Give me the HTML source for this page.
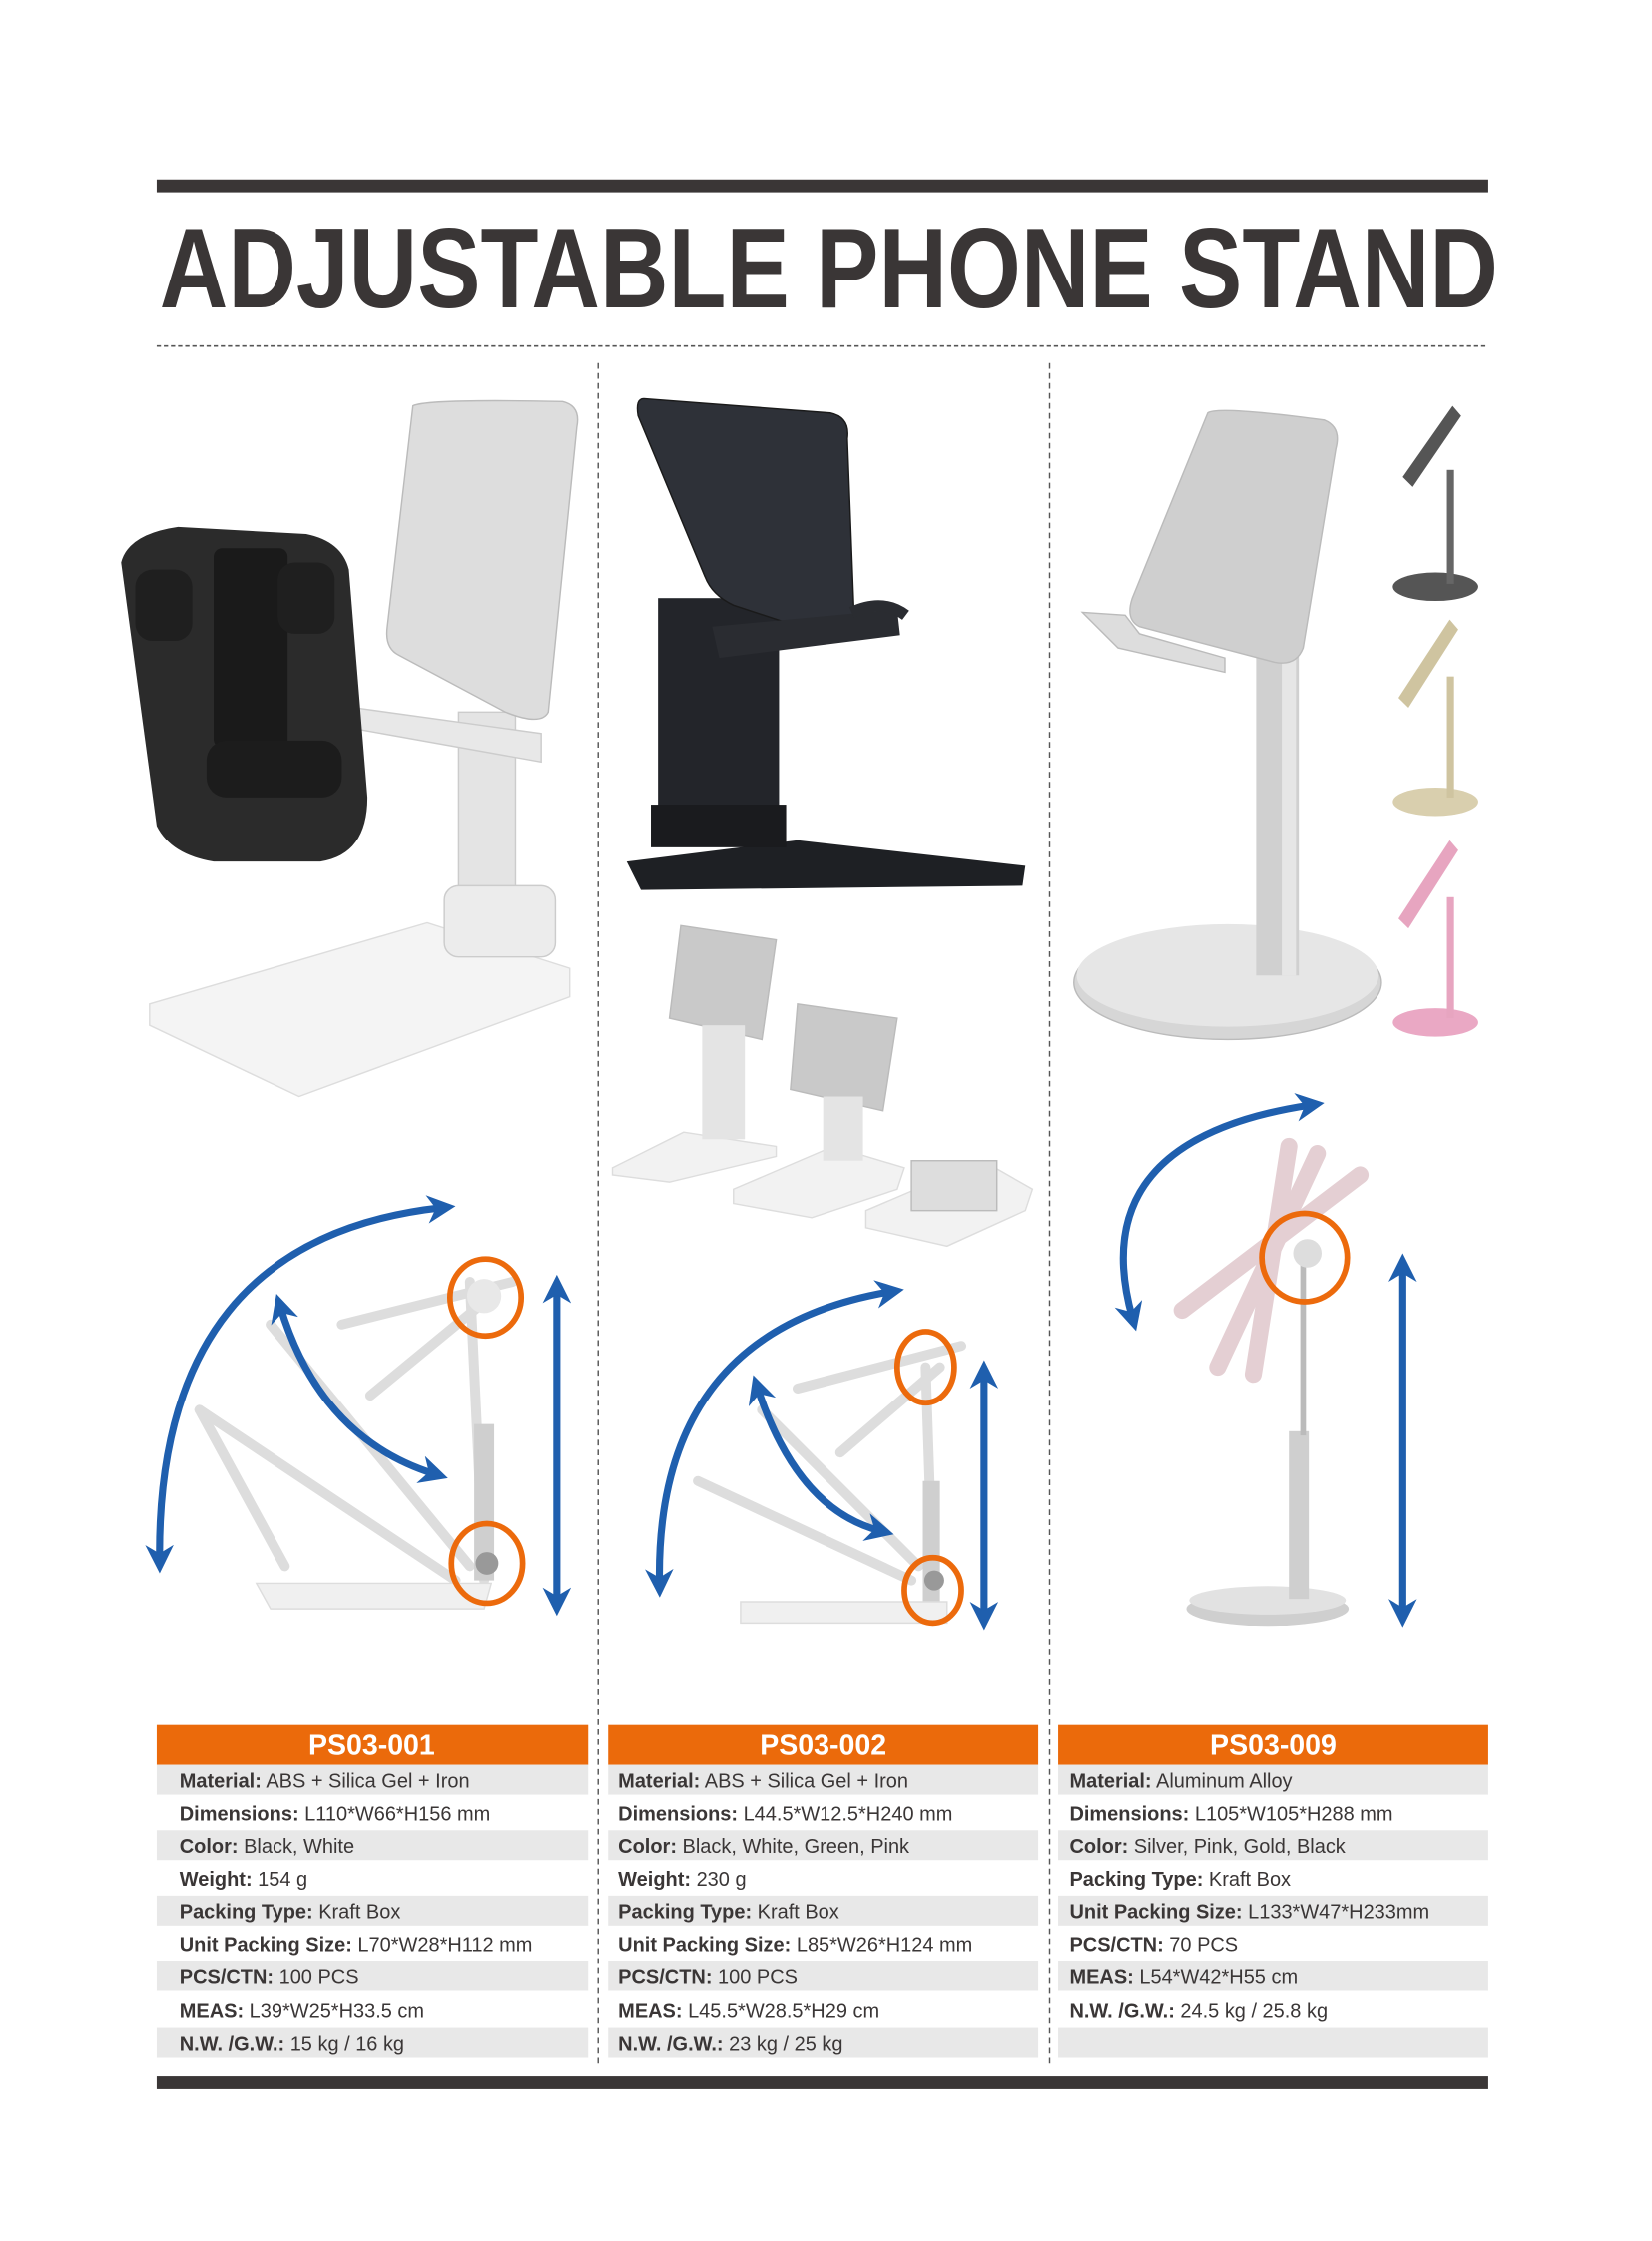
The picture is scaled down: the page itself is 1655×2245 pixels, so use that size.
<!DOCTYPE html>
<html><head><meta charset="utf-8"><style>
html,body{margin:0;padding:0;background:#fff;}
svg{display:block;}
.t{font-family:"Liberation Sans Narrow","Liberation Sans",sans-serif;fill:#3a3636;font-size:14px;}
.b{font-weight:bold;}
.h{font-family:"Liberation Sans Narrow","Liberation Sans",sans-serif;font-weight:bold;fill:#fff;font-size:20px;}
</style></head><body>
<svg width="1655" height="2245" viewBox="0 0 1160 1573.6" preserveAspectRatio="none" xmlns="http://www.w3.org/2000/svg">
<defs>
<marker id="ab" viewBox="0 0 10 10" refX="5" refY="5" markerWidth="4" markerHeight="4" orient="auto-start-reverse"><path d="M0,0 L10,5 L0,10 L3,5z" fill="#1f5fae"/></marker>
</defs>
<rect x="110" y="126" width="935" height="9" fill="#3a3636"/>
<text x="112" y="216" font-family="Liberation Sans Narrow, Liberation Sans, sans-serif" font-weight="bold" font-size="80" fill="#3a3636" textLength="940" lengthAdjust="spacingAndGlyphs">ADJUSTABLE PHONE STAND</text>
<line x1="110" y1="243" x2="1045" y2="243" stroke="#555" stroke-width="1.2" stroke-dasharray="3,2"/>
<line x1="420" y1="255" x2="420" y2="1450" stroke="#555" stroke-width="1" stroke-dasharray="4,3"/>
<line x1="737" y1="255" x2="737" y2="1450" stroke="#555" stroke-width="1" stroke-dasharray="4,3"/>

<!-- product 1 -->
<path d="M105,705 L300,648 L400,680 L400,700 L210,770 L105,720Z" fill="#f4f4f4" stroke="#ddd"/>
<rect x="322" y="500" width="40" height="150" fill="#e4e4e4" stroke="#ccc"/>
<rect x="312" y="622" width="78" height="50" rx="10" fill="#ececec" stroke="#ccc"/>
<path d="M290,285 Q300,280 395,282 Q408,285 405,300 L385,500 Q380,510 355,500 L280,460 Q270,455 272,440Z" fill="#ddd" stroke="#bbb"/>
<path d="M235,495 L380,515 L380,535 L240,510Z" fill="#e8e8e8" stroke="#ccc"/>
<path d="M85,395 Q90,375 125,370 L215,375 Q240,380 245,400 L258,560 Q258,600 225,605 L150,605 Q120,600 110,580Z" fill="#2b2b2b"/>
<rect x="150" y="385" width="52" height="140" rx="6" fill="#1a1a1a"/>
<rect x="145" y="520" width="95" height="40" rx="14" fill="#1c1c1c"/>
<rect x="95" y="400" width="40" height="50" rx="12" fill="#1f1f1f"/>
<rect x="195" y="395" width="40" height="50" rx="12" fill="#1f1f1f"/>

<!-- product 2 -->
<path d="M440,605 L560,590 L720,608 L718,622 L450,625Z" fill="#1e2024"/>
<rect x="462" y="420" width="85" height="170" fill="#23252a"/>
<rect x="457" y="565" width="95" height="30" fill="#1a1b1e"/>
<path d="M452,280 L583,290 Q597,293 595,308 L600,440 Q598,452 585,448 L515,425 Q500,418 495,405 L448,292 Q446,280 452,280Z" fill="#2e3138" stroke="#1a1a1a"/>
<path d="M500,440 L630,428 L632,446 L505,462Z" fill="#2a2c31"/>
<path d="M598,430 Q620,420 636,432" stroke="#2a2c31" stroke-width="8" fill="none"/>
<!-- small white stands -->
<path d="M430,820 L480,795 L545,805 L545,812 L470,830 L430,825Z" fill="#f2f2f2" stroke="#ddd"/>
<path d="M478,650 L545,660 L535,730 L470,715Z" fill="#c9c9c9" stroke="#bbb"/>
<rect x="493" y="720" width="30" height="80" fill="#e4e4e4"/>
<path d="M515,835 L585,805 L635,820 L630,835 L570,855 L515,845Z" fill="#f2f2f2" stroke="#ddd"/>
<path d="M560,705 L630,715 L620,780 L555,765Z" fill="#c9c9c9" stroke="#bbb"/>
<rect x="578" y="770" width="28" height="45" fill="#e4e4e4"/>
<path d="M608,850 L690,815 L725,835 L720,850 L665,875 L608,862Z" fill="#f2f2f2" stroke="#ddd"/>
<rect x="640" y="815" width="60" height="35" fill="#ddd" stroke="#bbb"/>

<!-- product 3 -->
<ellipse cx="862" cy="690" rx="108" ry="40" fill="#d6d6d6" stroke="#bbb"/>
<ellipse cx="862" cy="685" rx="106" ry="36" fill="#e6e6e6"/>
<rect x="882" y="350" width="30" height="335" fill="#d0d0d0"/>
<rect x="900" y="350" width="10" height="335" fill="#e6e6e6"/>
<path d="M848,290 Q855,285 930,295 Q942,300 938,315 L915,455 Q910,468 895,465 L800,440 Q790,435 795,420Z" fill="#cfcfcf" stroke="#bbb"/>
<path d="M760,430 L790,432 L800,445 L860,462 L860,472 L785,455Z" fill="#ddd" stroke="#bbb"/>
<g><ellipse cx="1008" cy="412" rx="30" ry="10" fill="#555"/><rect x="1016" y="330" width="5" height="80" fill="#666"/><path d="M985,335 L1020,285 L1026,292 L992,342Z" fill="#555"/></g>
<g><ellipse cx="1008" cy="563" rx="30" ry="10" fill="#d9cfae"/><rect x="1016" y="475" width="5" height="85" fill="#cfc4a0"/><path d="M982,490 L1018,435 L1024,442 L989,497Z" fill="#cfc4a0"/></g>
<g><ellipse cx="1008" cy="718" rx="30" ry="10" fill="#eaa8c4"/><rect x="1016" y="630" width="5" height="85" fill="#e7a5c0"/><path d="M982,645 L1018,590 L1024,597 L989,652Z" fill="#e7a5c0"/></g>

<!-- diagram 1 -->
<g stroke="#ddd" stroke-width="7" fill="none" stroke-linecap="round">
<line x1="330" y1="900" x2="340" y2="1110"/>
<line x1="240" y1="930" x2="360" y2="900"/>
<line x1="260" y1="980" x2="345" y2="910"/>
<line x1="140" y1="990" x2="320" y2="1110"/>
<line x1="190" y1="930" x2="330" y2="1100"/>
<line x1="140" y1="990" x2="200" y2="1100"/>
</g>
<rect x="333" y="1000" width="14" height="110" fill="#cfcfcf"/>
<path d="M180,1112 L345,1112 L340,1130 L190,1130Z" fill="#f0f0f0" stroke="#ddd"/>
<circle cx="342" cy="1098" r="8" fill="#999"/>
<circle cx="340" cy="910" r="12" fill="#e8e8e8"/>
<path d="M112,1095 Q110,870 310,848" stroke="#1f5fae" stroke-width="5" fill="none" marker-start="url(#ab)" marker-end="url(#ab)"/>
<path d="M197,918 Q225,1010 305,1035" stroke="#1f5fae" stroke-width="5" fill="none" marker-start="url(#ab)" marker-end="url(#ab)"/>
<line x1="391" y1="905" x2="391" y2="1125" stroke="#1f5fae" stroke-width="5" marker-start="url(#ab)" marker-end="url(#ab)"/>
<ellipse cx="341" cy="911" rx="25" ry="27" stroke="#ec6a0c" stroke-width="4" fill="none"/>
<ellipse cx="342" cy="1098" rx="25" ry="28" stroke="#ec6a0c" stroke-width="4" fill="none"/>

<!-- diagram 2 -->
<g stroke="#ddd" stroke-width="7" fill="none" stroke-linecap="round">
<line x1="650" y1="960" x2="655" y2="1110"/>
<line x1="560" y1="975" x2="675" y2="945"/>
<line x1="590" y1="1020" x2="660" y2="960"/>
<line x1="490" y1="1040" x2="640" y2="1110"/>
<line x1="535" y1="990" x2="645" y2="1100"/>
</g>
<rect x="648" y="1040" width="12" height="90" fill="#cfcfcf"/>
<path d="M520,1125 L665,1125 L665,1140 L520,1140Z" fill="#f0f0f0" stroke="#ddd"/>
<circle cx="656" cy="1110" r="7" fill="#999"/>
<path d="M463,1112 Q460,935 625,907" stroke="#1f5fae" stroke-width="5" fill="none" marker-start="url(#ab)" marker-end="url(#ab)"/>
<path d="M532,975 Q560,1060 618,1075" stroke="#1f5fae" stroke-width="5" fill="none" marker-start="url(#ab)" marker-end="url(#ab)"/>
<line x1="691" y1="965" x2="691" y2="1135" stroke="#1f5fae" stroke-width="5" marker-start="url(#ab)" marker-end="url(#ab)"/>
<ellipse cx="650" cy="960" rx="20" ry="25" stroke="#ec6a0c" stroke-width="4" fill="none"/>
<ellipse cx="655" cy="1117" rx="20" ry="23" stroke="#ec6a0c" stroke-width="4" fill="none"/>

<!-- diagram 3 -->
<ellipse cx="890" cy="1130" rx="57" ry="12" fill="#cfcfcf"/>
<ellipse cx="890" cy="1124" rx="55" ry="10" fill="#e2e2e2"/>
<rect x="905" y="1005" width="14" height="118" fill="#cfcfcf"/>
<rect x="913" y="880" width="4" height="128" fill="#bbb"/>
<g stroke="#e4cfd3" stroke-width="12" fill="none" stroke-linecap="round">
<line x1="830" y1="920" x2="955" y2="825"/>
<line x1="855" y1="960" x2="925" y2="810"/>
<line x1="880" y1="965" x2="905" y2="805"/>
</g>
<circle cx="918" cy="880" r="10" fill="#ddd"/>
<path d="M795,925 Q760,800 920,776" stroke="#1f5fae" stroke-width="5" fill="none" marker-start="url(#ab)" marker-end="url(#ab)"/>
<line x1="985" y1="890" x2="985" y2="1133" stroke="#1f5fae" stroke-width="5" marker-start="url(#ab)" marker-end="url(#ab)"/>
<ellipse cx="916" cy="883" rx="30" ry="31" stroke="#ec6a0c" stroke-width="4" fill="none"/>

<!-- tables -->
<g>
<rect x="110" y="1211" width="303" height="28" fill="#eb6a0b"/>
<rect x="427" y="1211" width="302" height="28" fill="#eb6a0b"/>
<rect x="743" y="1211" width="302" height="28" fill="#eb6a0b"/>
<text class="h" x="261" y="1232" text-anchor="middle">PS03-001</text>
<text class="h" x="578" y="1232" text-anchor="middle">PS03-002</text>
<text class="h" x="894" y="1232" text-anchor="middle">PS03-009</text>
<g fill="#e8e8e8">
<rect x="110" y="1239" width="303" height="21"/><rect x="110" y="1285" width="303" height="21"/><rect x="110" y="1331" width="303" height="21"/><rect x="110" y="1377" width="303" height="21"/><rect x="110" y="1424" width="303" height="21"/>
<rect x="427" y="1239" width="302" height="21"/><rect x="427" y="1285" width="302" height="21"/><rect x="427" y="1331" width="302" height="21"/><rect x="427" y="1377" width="302" height="21"/><rect x="427" y="1424" width="302" height="21"/>
<rect x="743" y="1239" width="302" height="21"/><rect x="743" y="1285" width="302" height="21"/><rect x="743" y="1331" width="302" height="21"/><rect x="743" y="1377" width="302" height="21"/><rect x="743" y="1424" width="302" height="21"/>
</g>
<g class="t">
<text x="126" y="1255"><tspan class="b">Material:</tspan> ABS + Silica Gel + Iron</text>
<text x="126" y="1278"><tspan class="b">Dimensions:</tspan> L110*W66*H156 mm</text>
<text x="126" y="1301"><tspan class="b">Color:</tspan> Black, White</text>
<text x="126" y="1324"><tspan class="b">Weight:</tspan> 154 g</text>
<text x="126" y="1347"><tspan class="b">Packing Type:</tspan> Kraft Box</text>
<text x="126" y="1370"><tspan class="b">Unit Packing Size:</tspan> L70*W28*H112 mm</text>
<text x="126" y="1393"><tspan class="b">PCS/CTN:</tspan> 100 PCS</text>
<text x="126" y="1417"><tspan class="b">MEAS:</tspan> L39*W25*H33.5 cm</text>
<text x="126" y="1440"><tspan class="b">N.W. /G.W.:</tspan> 15 kg / 16 kg</text>

<text x="434" y="1255"><tspan class="b">Material:</tspan> ABS + Silica Gel + Iron</text>
<text x="434" y="1278"><tspan class="b">Dimensions:</tspan> L44.5*W12.5*H240 mm</text>
<text x="434" y="1301"><tspan class="b">Color:</tspan> Black, White, Green, Pink</text>
<text x="434" y="1324"><tspan class="b">Weight:</tspan> 230 g</text>
<text x="434" y="1347"><tspan class="b">Packing Type:</tspan> Kraft Box</text>
<text x="434" y="1370"><tspan class="b">Unit Packing Size:</tspan> L85*W26*H124 mm</text>
<text x="434" y="1393"><tspan class="b">PCS/CTN:</tspan> 100 PCS</text>
<text x="434" y="1417"><tspan class="b">MEAS:</tspan> L45.5*W28.5*H29 cm</text>
<text x="434" y="1440"><tspan class="b">N.W. /G.W.:</tspan> 23 kg / 25 kg</text>

<text x="751" y="1255"><tspan class="b">Material:</tspan> Aluminum Alloy</text>
<text x="751" y="1278"><tspan class="b">Dimensions:</tspan> L105*W105*H288 mm</text>
<text x="751" y="1301"><tspan class="b">Color:</tspan> Silver, Pink, Gold, Black</text>
<text x="751" y="1324"><tspan class="b">Packing Type:</tspan> Kraft Box</text>
<text x="751" y="1347"><tspan class="b">Unit Packing Size:</tspan> L133*W47*H233mm</text>
<text x="751" y="1370"><tspan class="b">PCS/CTN:</tspan> 70 PCS</text>
<text x="751" y="1393"><tspan class="b">MEAS:</tspan> L54*W42*H55 cm</text>
<text x="751" y="1417"><tspan class="b">N.W. /G.W.:</tspan> 24.5 kg / 25.8 kg</text>
</g>
</g>
<rect x="110" y="1458" width="935" height="9" fill="#3a3636"/>
</svg>
</body></html>
